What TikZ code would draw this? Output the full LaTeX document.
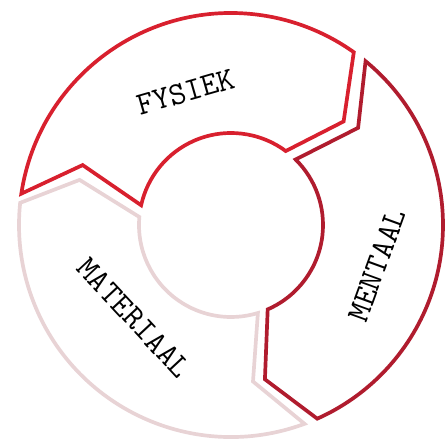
\documentclass[tikz,border=0pt]{standalone}
\usepackage{fontspec}
\usepackage{tikz}

\definecolor{fysiekred}{HTML}{D8202E}
\definecolor{mentaalred}{HTML}{B01C2E}
\definecolor{materiaalpink}{HTML}{E8D3D5}

\tikzset{
    segment/.style={line width=2.1pt, line join=miter, fill=white},
    seglabel/.style={font=\fontsize{18.5}{20}\selectfont\ttfamily\addfontfeature{LetterSpace=6}, inner sep=0pt}
}

\begin{document}
\begin{tikzpicture}[x=0.02cm, y=0.02cm]
        \useasboundingbox (-231,-214) rectangle (217,225);
        % three arrow shaped parts of one ring, running clockwise
        % part 1: materiaal (left and bottom)
        \draw[segment, draw=materiaalpink] (290.3:212) arc[start angle=290.3, end angle=174, radius=212]
            -- (163.4:158) -- (175:92) arc[start angle=175, end angle=287, radius=92]
            -- (278:158) -- cycle;
        % part 2: fysiek (top)
        \draw[segment, draw=fysiekred] (171.5:212) arc[start angle=171.5, end angle=54.6, radius=212]
            -- (42.6:153) -- (53.5:92) arc[start angle=53.5, end angle=167.6, radius=92]
            -- (158:160) -- cycle;
        % part 3: mentaal (right)
        \draw[segment, draw=mentaalred] (50.6:212) arc[start angle=50.6, end angle=-66, radius=212]
            -- (-77.6:158) -- (-66.5:92) arc[start angle=-66.5, end angle=45.4, radius=92]
            -- (37.4:160) -- cycle;

        % we put the labels along the ring
        \node[seglabel, rotate=16] (fysiek) at (-45,133) {FYSIEK};
        \node[seglabel, rotate=70] (mentaal) at (146,-40) {MENTAAL};
        \node[seglabel, rotate=-47] (materiaal) at (-97,-93) {MATERIAAL};
    \end{tikzpicture}
\end{document}
